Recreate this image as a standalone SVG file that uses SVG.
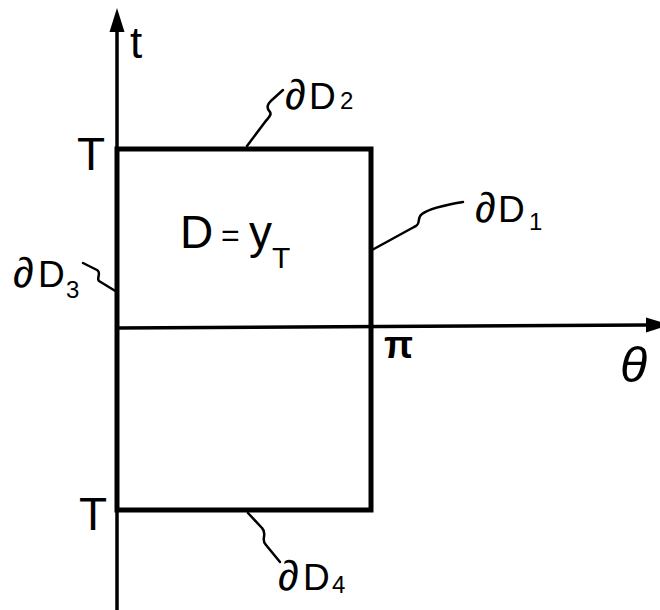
<svg xmlns="http://www.w3.org/2000/svg" width="660" height="610" viewBox="0 0 660 610">
<style>
.lbl{font-family:"Liberation Sans",Arial,sans-serif;fill:#000;}
.pd{font-size:42px;}
.dd{font-size:37px;}
.sub{font-size:24px;}
.axis{stroke:#000;stroke-width:3.5;fill:none;}
.edge{stroke:#000;stroke-width:5;fill:none;stroke-linejoin:miter;}
.lead{stroke:#000;stroke-width:2.5;fill:none;stroke-linecap:round;stroke-linejoin:round;}
</style>
<defs>
<marker id="arr" markerUnits="userSpaceOnUse" markerWidth="24" markerHeight="16" refX="0" refY="8" orient="auto">
<polygon points="0,0.5 24,8 0,15.5" fill="#000"/>
</marker>
</defs>
<rect width="660" height="610" fill="#fff"/>
<g id="axes">
<line class="axis" x1="117" y1="610" x2="117" y2="32" marker-end="url(#arr)"/>
<line class="axis" x1="117" y1="328" x2="646" y2="325" marker-end="url(#arr)"/>
</g>
<g id="region-D">
<rect class="edge" x="117" y="149" width="254" height="361"/>
</g>
<g id="connectors">
<path class="lead" d="M283,90 L273,99 C267,104 266,108 270,112 C272,115 268,118 265,122 L247,146"/>
<path class="lead" d="M463,202 C445,205 430,208 422,214 C416,218 422,224 414,227 L372,250"/>
<path class="lead" d="M83,263 L97,270 C102,273 96,278 99,281 L117,292"/>
<path class="lead" d="M248,513 L262,528 C268,534 260,540 266,545 L280,562"/>
</g>
<g id="label-t"><text class="lbl" x="130" y="58" font-size="44">t</text></g>
<g id="label-T-top"><text class="lbl" x="77" y="170" font-size="46">T</text></g>
<g id="label-T-bottom"><text class="lbl" x="79" y="530" font-size="46">T</text></g>
<g id="label-dD2"><text class="lbl" y="109"><tspan class="pd" x="285">∂</tspan><tspan class="dd" x="309">D</tspan><tspan class="sub" x="340">2</tspan></text></g>
<g id="label-dD1"><text class="lbl" y="222"><tspan class="pd" x="475">∂</tspan><tspan class="dd" x="498">D</tspan><tspan class="sub" x="529" y="230">1</tspan></text></g>
<g id="label-dD3"><text class="lbl" y="287"><tspan class="pd" x="13">∂</tspan><tspan class="dd" x="38">D</tspan><tspan class="sub" x="66" y="298">3</tspan></text></g>
<g id="label-dD4"><text class="lbl" y="590"><tspan class="pd" x="278">∂</tspan><tspan class="dd" x="303">D</tspan><tspan class="sub" x="332" y="593">4</tspan></text></g>
<g id="label-D"><text class="lbl" x="180" y="248" font-size="46">D<tspan x="221" y="246" font-size="32">=</tspan><tspan x="249" y="248">y</tspan><tspan font-size="30" x="272" y="268">T</tspan></text></g>
<g id="label-pi"><text class="lbl" x="384" y="358" font-size="38" font-weight="bold">π</text></g>
<g id="label-theta"><text class="lbl" x="620" y="382" font-size="50" font-style="italic">θ</text></g>
</svg>
